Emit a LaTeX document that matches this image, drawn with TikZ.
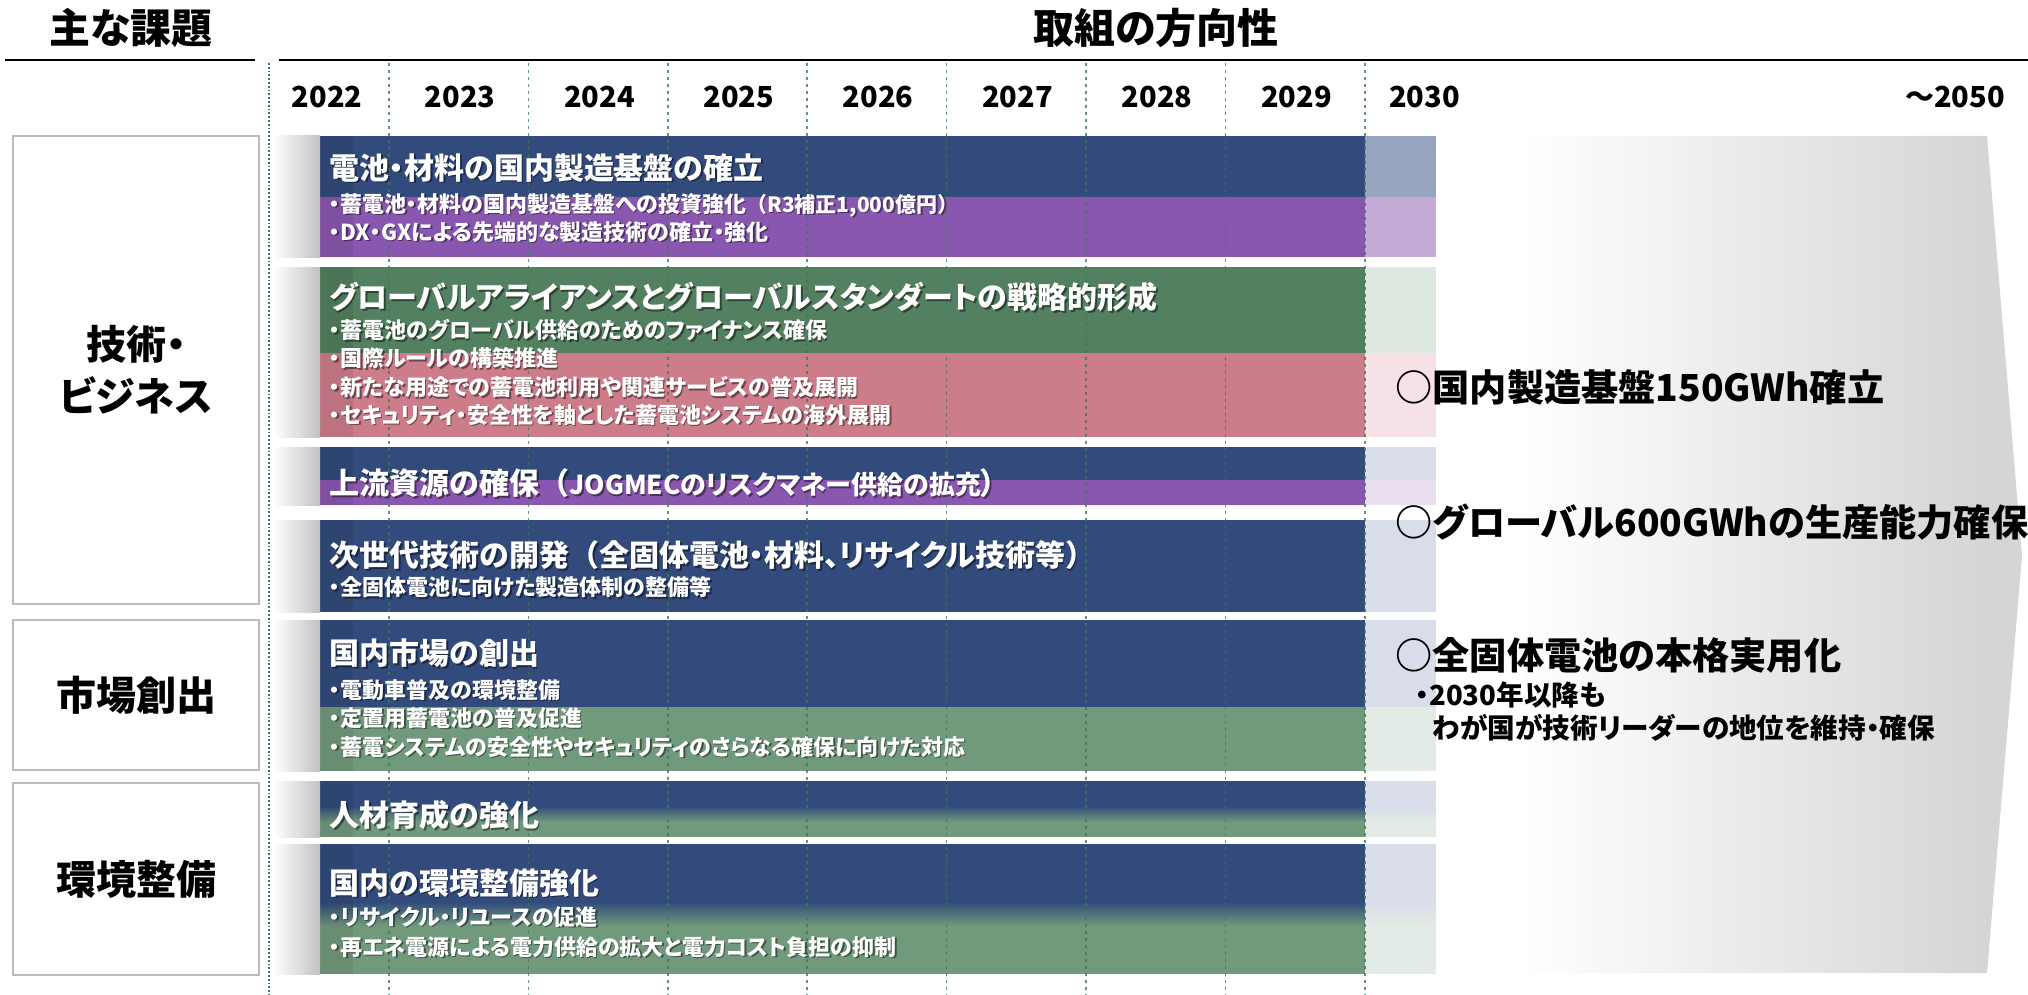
\documentclass[tikz,border=0pt]{standalone}
\usepackage{fontspec}
\setmainfont{Noto Sans CJK JP}[RawFeature=+palt]
\newfontfamily\fullw{Noto Sans CJK JP}
\usetikzlibrary{positioning}

\definecolor{barblue}{HTML}{324B7C}
\definecolor{barpurple}{HTML}{8A57B0}
\definecolor{bargreen}{HTML}{538060}
\definecolor{barpink}{HTML}{CD7D8A}
\definecolor{barsage}{HTML}{719A7C}
\definecolor{extblueA}{HTML}{98A5C0}
\definecolor{extpurpleA}{HTML}{C5AAD6}
\definecolor{extblue}{HTML}{D8DDE9}
\definecolor{extpurple}{HTML}{E9DFF1}
\definecolor{extgreen}{HTML}{DDE8E1}
\definecolor{extpink}{HTML}{F6E2E6}
\definecolor{extsage}{HTML}{E2EBE5}
\definecolor{gridgreen}{HTML}{3E7A56}
\definecolor{boxgray}{HTML}{BBBBBB}
\definecolor{arrowgray}{HTML}{D5D5D5}

\pgfdeclarehorizontalshading{arrowfade}{100bp}{color(0bp)=(white); color(32bp)=(white); color(72bp)=(arrowgray); color(100bp)=(arrowgray)}

\tikzset{
  heading/.style={font=\bfseries\fontsize{20.5}{24}\selectfont},
  yearlbl/.style={font=\bfseries\fontsize{14.5}{18}\selectfont},
  issuebox/.style={draw=boxgray, line width=1pt, fill=white, align=center,
    font=\bfseries\fontsize{20}{26}\selectfont},
  bartitle/.style={anchor=west, inner sep=0pt, text=white, font=\bfseries\fontsize{15}{18}\selectfont},
  baritem/.style={anchor=west, inner sep=0pt, text=white, font=\bfseries\fontsize{11}{13}\selectfont},
  goal/.style={anchor=west, inner sep=0pt, font=\bfseries\fontsize{18.6}{22}\selectfont},
  goalsub/.style={anchor=west, inner sep=0pt, font=\bfseries\fontsize{13.8}{16}\selectfont},
  yeargrid/.style={gridgreen, line width=0.8pt, dash pattern=on 1.5pt off 2pt, opacity=0.8},
}

% white text on the bars, with a soft dark shadow
\newcommand{\bartxt}[4]{%
  \node[#1, text=black, text opacity=0.45, xshift=0.8pt, yshift=-0.8pt] (#2s) at (#3) {#4};
  \node[#1] (#2) at (#3) {#4};}

\begin{document}
\begin{tikzpicture}[x=0.5pt,y=-0.5pt]
\useasboundingbox (0,0) rectangle (2028,995);

% goal arrow, fading in from the left
\shade[shading=arrowfade] (1437,136) -- (1987,136) -- (2022,556) -- (1987,973) -- (1437,973) -- cycle;

% headings
\node[heading] (hdIssue) at (131,28) {主な課題};
\node[heading] (hdDir) at (1156,28) {取組の方向性};
\draw[line width=1.3pt] (5,60) -- (255,60);
\draw[line width=1.3pt] (279,60) -- (2028,60);

% year row
\node[yearlbl] (y2022) at (327,97) {2022};
\foreach \yr [count=\i from 0] in {2023,2024,2025,2026,2027,2028,2029}
  \node[yearlbl] (y\yr) at ({460+139.4*\i},97) {\yr};
\node[yearlbl, anchor=west] (y2030) at (1382,97) {2030};
\node[yearlbl, anchor=east] (y2050) at (2012,97) {～2050};

% issue boxes
\node[issuebox, minimum width=123pt, minimum height=234pt] (boxTech) at (136,370) {技術・\\ビジネス};
\node[issuebox, minimum width=123pt, minimum height=75pt] (boxMarket) at (136,695) {市場創出};
\node[issuebox, minimum width=123pt, minimum height=96pt] (boxEnv) at (136,879) {環境整備};

% bars
\fill[barblue] (320,136) rectangle (1365,197);
\fill[barpurple] (320,197) rectangle (1365,257);
\fill[extblueA] (1365,136) rectangle (1436,197);
\fill[extpurpleA] (1365,197) rectangle (1436,257);

\fill[bargreen] (320,267) rectangle (1365,353);
\fill[barpink] (320,353) rectangle (1365,437);
\fill[extgreen] (1365,267) rectangle (1436,353);
\fill[extpink] (1365,353) rectangle (1436,437);

\fill[barblue] (320,447) rectangle (1365,480);
\fill[barpurple] (320,480) rectangle (1365,505);
\fill[extblue] (1365,447) rectangle (1436,480);
\fill[extpurple] (1365,480) rectangle (1436,505);

\fill[barblue] (320,520) rectangle (1365,612);
\fill[extblue] (1365,520) rectangle (1436,612);

\fill[barblue] (320,620) rectangle (1365,707);
\fill[barsage] (320,707) rectangle (1365,771);
\fill[extblue] (1365,620) rectangle (1436,707);
\fill[extsage] (1365,707) rectangle (1436,771);

\fill[barblue] (320,781) rectangle (1365,806);
\shade[top color=barblue, bottom color=barsage] (320,806) rectangle (1365,822);
\fill[barsage] (320,822) rectangle (1365,837);
\fill[extblue] (1365,781) rectangle (1436,806);
\shade[top color=extblue, bottom color=extsage] (1365,806) rectangle (1436,822);
\fill[extsage] (1365,822) rectangle (1436,837);

\fill[barblue] (320,844) rectangle (1365,902);
\shade[top color=barblue, bottom color=barsage] (320,902) rectangle (1365,926);
\fill[barsage] (320,926) rectangle (1365,974);
\fill[extblue] (1365,844) rectangle (1436,902);
\shade[top color=extblue, bottom color=extsage] (1365,902) rectangle (1436,926);
\fill[extsage] (1365,926) rectangle (1436,974);

% gray ramp at the start of every bar
\foreach \ya/\yb in {136/257, 267/437, 447/505, 520/612, 620/771, 781/837, 844/974} {
  \shade[left color=white, right color=black!24] (273,\ya) rectangle (320,\yb);
  \fill[black, opacity=0.08] (320,\ya) rectangle (353,\yb);
}

% year dividers
\draw[gridgreen, line width=0.9pt, densely dotted] (269,63) -- (269,995);
\foreach \i in {0,...,7}
  \draw[yeargrid] ({389+139.4*\i},63) -- ({389+139.4*\i},995);

% bar texts
\bartxt{bartitle}{t1}{329,168}{電池・材料の国内製造基盤の確立}
\bartxt{baritem}{t1a}{329,205}{・蓄電池・材料の国内製造基盤への投資強化{\fullw\fontsize{10.5}{12}\selectfont （R3補正1,000億円）}}
\bartxt{baritem}{t1b}{329,232}{・DX・GXによる先端的な製造技術の確立・強化}

\bartxt{bartitle}{t2}{329,297}{グローバルアライアンスとグローバルスタンダートの戦略的形成}
\bartxt{baritem}{t2a}{329,330}{・蓄電池のグローバル供給のためのファイナンス確保}
\bartxt{baritem}{t2b}{329,358}{・国際ルールの構築推進}
\bartxt{baritem}{t2c}{329,387}{・新たな用途での蓄電池利用や関連サービスの普及展開}
\bartxt{baritem}{t2d}{329,415}{・セキュリティ・安全性を軸とした蓄電池システムの海外展開}

\bartxt{bartitle}{t3}{329,483}{{\fullw 上流資源の確保（}{\fontsize{13}{15}\selectfont JOGMECのリスクマネー供給の拡充}）}

\bartxt{bartitle}{t4}{329,555}{{\fullw 次世代技術の開発（}全固体電池・材料、リサイクル技術等{\fullw ）}}
\bartxt{baritem}{t4a}{329,587}{・全固体電池に向けた製造体制の整備等}

\bartxt{bartitle}{t5}{329,653}{国内市場の創出}
\bartxt{baritem}{t5a}{329,690}{・電動車普及の環境整備}
\bartxt{baritem}{t5b}{329,718}{・定置用蓄電池の普及促進}
\bartxt{baritem}{t5c}{329,747}{・蓄電システムの安全性やセキュリティのさらなる確保に向けた対応}

\bartxt{bartitle}{t6}{329,815}{人材育成の強化}

\bartxt{bartitle}{t7}{329,883}{国内の環境整備強化}
\bartxt{baritem}{t7a}{329,917}{・リサイクル・リユースの促進}
\bartxt{baritem}{t7b}{329,947}{・再エネ電源による電力供給の拡大と電力コスト負担の抑制}

% goals for 2030 and beyond
\node[goal] (g1) at (1395,387) {○国内製造基盤150GWh確立};
\node[goal] (g2) at (1395,522) {○グローバル600GWhの生産能力確保};
\node[goal] (g3) at (1395,655) {○全固体電池の本格実用化};
\node[goalsub] (g3a) at (1415,695) {・2030年以降も};
\node[goalsub] (g3b) at (1432,728) {わが国が技術リーダーの地位を維持・確保};
\end{tikzpicture}
\end{document}
